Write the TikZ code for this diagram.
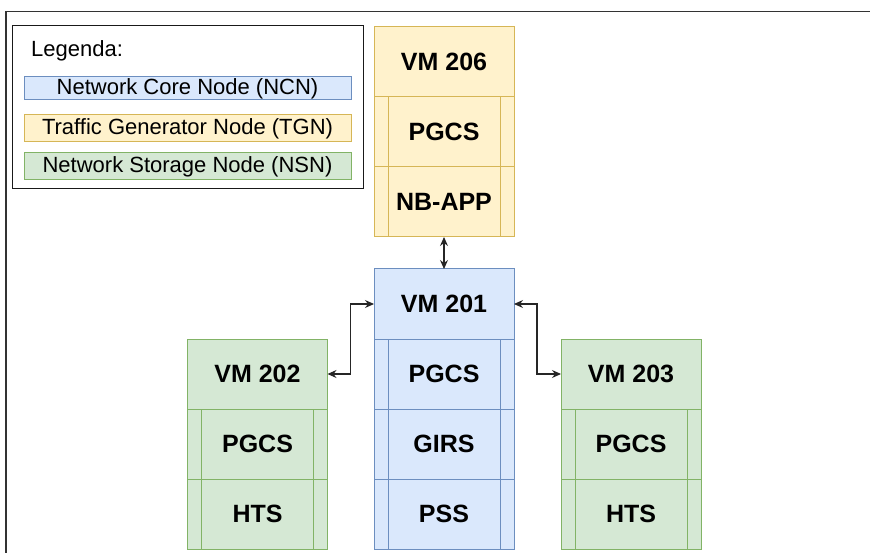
\documentclass[tikz,border=0pt]{standalone}
\usepackage{fontspec}
\setmainfont{Liberation Sans}
\usetikzlibrary{arrows.meta}
\definecolor{bluefill}{HTML}{DAE8FC}
\definecolor{bluedraw}{HTML}{6C8EBF}
\definecolor{yelfill}{HTML}{FFF2CC}
\definecolor{yeldraw}{HTML}{D6B656}
\definecolor{grnfill}{HTML}{D5E8D4}
\definecolor{grndraw}{HTML}{82B366}
\tikzset{
  box/.style={rectangle, minimum width=140pt, minimum height=70pt, inner sep=0pt, outer sep=0pt,
    line width=1pt, font=\fontsize{25}{30}\selectfont\bfseries},
  hdr/.style={box, fill=#1fill, draw=#1draw},
  rowbox/.style={box, fill=#1fill, draw=#1draw,
    path picture={
      \draw[#1draw, line width=1pt]
        ([xshift=14pt]path picture bounding box.north west) -- ([xshift=14pt]path picture bounding box.south west)
        ([xshift=-14pt]path picture bounding box.north east) -- ([xshift=-14pt]path picture bounding box.south east);
    }},
  legbar/.style={rectangle, minimum width=327pt, inner sep=0pt, outer sep=0pt, line width=1pt,
    fill=#1fill, draw=#1draw, font=\fontsize{22}{25}\selectfont},
  conn/.style={line width=1.1pt, draw=black!85, {Stealth[length=9pt,width=8pt,inset=3pt]}-{Stealth[length=9pt,width=8pt,inset=3pt]}},
}
\begin{document}
\begin{tikzpicture}[x=1pt,y=-1pt]
\useasboundingbox (0,0) rectangle (870,553);
\draw[line width=1.3pt, black!80] (6,553) -- (6,11.5) -- (870,11.5);

% legend
\node[draw=black!90, line width=1pt, minimum width=351pt, minimum height=163pt, inner sep=0pt] (legend) at (187.5,107.5) {};
\node[anchor=west, font=\fontsize{22}{25}\selectfont, inner sep=0pt] (legtitle) at (31,51) {Legenda:};
\node[legbar=blue, minimum height=23pt] (legncn) at (187.5,88.5) {Network Core Node (NCN)};
\node[legbar=yel, minimum height=27pt] (legtgn) at (187.5,128.5) {Traffic Generator Node (TGN)};
\node[legbar=grn, minimum height=27pt] (legnsn) at (187.5,166.5) {Network Storage Node (NSN)};

% VM 206
\node[hdr=yel] (vm206) at (444,62) {VM 206};
\node[rowbox=yel] (vm206a) at (444,132) {PGCS};
\node[rowbox=yel] (vm206b) at (444,202) {NB-APP};

% VM 201
\node[hdr=blue] (vm201) at (444,304) {VM 201};
\node[rowbox=blue] (vm201a) at (444,374) {PGCS};
\node[rowbox=blue] (vm201b) at (444,444) {GIRS};
\node[rowbox=blue] (vm201c) at (444,514) {PSS};

% VM 202
\node[hdr=grn] (vm202) at (257.5,374) {VM 202};
\node[rowbox=grn] (vm202a) at (257.5,444) {PGCS};
\node[rowbox=grn] (vm202b) at (257.5,514) {HTS};

% VM 203
\node[hdr=grn] (vm203) at (631,374) {VM 203};
\node[rowbox=grn] (vm203a) at (631,444) {PGCS};
\node[rowbox=grn] (vm203b) at (631,514) {HTS};

% connectors
\draw[conn] (vm206b.south) -- (vm201.north);
\draw[conn] (vm202.east) -- ++(23,0) |- (vm201.west);
\draw[conn] (vm201.east) -- ++(23,0) |- (vm203.west);
\end{tikzpicture}
\end{document}
